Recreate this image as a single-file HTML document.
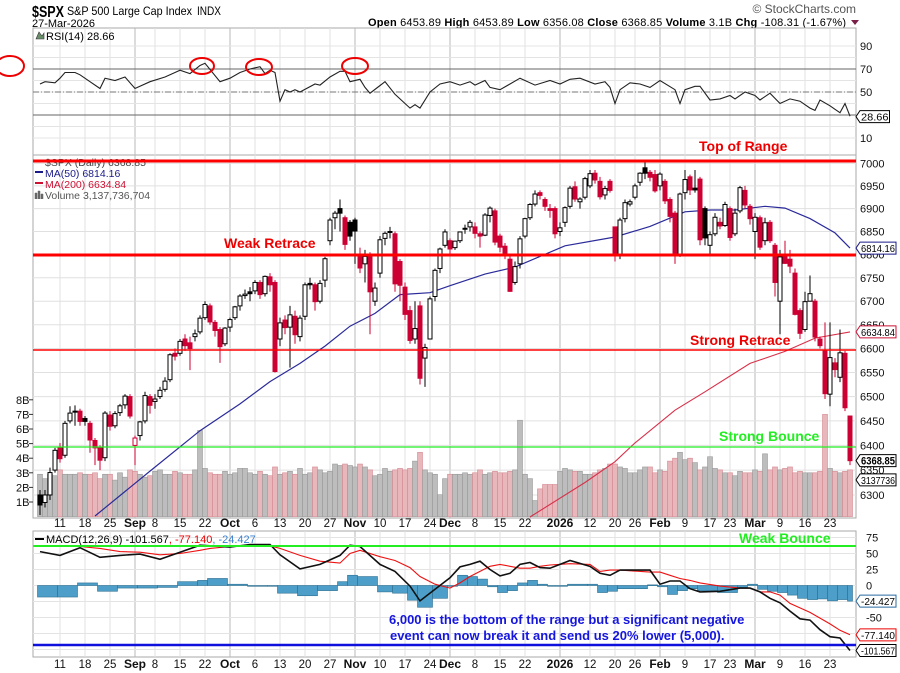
<!DOCTYPE html>
<html><head><meta charset="utf-8">
<style>
html,body{margin:0;padding:0;background:#fff;}
svg{display:block;font-family:"Liberation Sans",Arial,sans-serif;}
</style></head>
<body>
<svg id="chart" width="900" height="673" viewBox="0 0 900 673">
<g id="hdr">
 <text x="32" y="17" font-size="16" font-weight="bold" fill="#000" textLength="32" lengthAdjust="spacingAndGlyphs">$SPX</text>
 <text x="67" y="15" font-size="12" fill="#000" textLength="125" lengthAdjust="spacingAndGlyphs">S&amp;P 500 Large Cap Index</text>
 <text x="197" y="15" font-size="12" fill="#000" textLength="24" lengthAdjust="spacingAndGlyphs">INDX</text>
 <text x="32" y="27" font-size="11" fill="#000">27-Mar-2026</text>
 <text x="856" y="13" font-size="12" fill="#555" text-anchor="end">© StockCharts.com</text>
 <text x="368" y="26" font-size="11" fill="#000" textLength="478" lengthAdjust="spacing"><tspan font-weight="bold">Open</tspan> 6453.89  <tspan font-weight="bold">High</tspan> 6453.89  <tspan font-weight="bold">Low</tspan> 6356.08  <tspan font-weight="bold">Close</tspan> 6368.85  <tspan font-weight="bold">Volume</tspan> 3.1B  <tspan font-weight="bold">Chg</tspan> -108.31 (-1.67%)</text>
 <path d="M851,20 L859,20 L855,25 Z" fill="#7a1f4a"/>
</g>
<g id="grid"></g>
<g id="rsi"></g>
<g id="main"></g>
<g id="macd"></g>
<g id="axes"></g>
<g id="notes"></g>
</svg>
<script>
// ---------- data ----------
const opens=[6300,6285,6300,6350,6395,6380,6450,6470,6470,6455,6445,6410,6395,6375,6462,6440,6467,6483,6500,6400,6420,6450,6500,6490,6500,6515,6535,6590,6590,6620,6612,6625,6635,6665,6690,6655,6640,6610,6645,6665,6690,6712,6720,6722,6740,6716,6752,6740,6620,6660,6645,6668,6625,6668,6738,6735,6700,6745,6830,6880,6900,6880,6870,6875,6800,6780,6800,6700,6760,6835,6848,6845,6785,6730,6680,6620,6690,6580,6620,6710,6770,6820,6830,6815,6830,6855,6860,6860,6845,6842,6885,6895,6840,6818,6790,6740,6780,6840,6880,6910,6935,6920,6900,6900,6850,6870,6905,6948,6915,6925,6950,6978,6960,6930,6960,6860,6800,6878,6910,6925,6958,6990,6980,6975,6950,6960,6920,6890,6800,6935,6970,6945,6965,6900,6820,6845,6870,6863,6900,6845,6895,6940,6905,6850,6880,6830,6870,6820,6700,6800,6790,6760,6680,6640,6700,6700,6620,6595,6505,6570,6540,6590,6460];
const closes=[6280,6300,6345,6390,6373,6445,6466,6468,6449,6449,6411,6395,6370,6466,6439,6465,6481,6501,6460,6415,6448,6502,6482,6495,6513,6532,6587,6584,6615,6606,6600,6631,6664,6693,6656,6638,6604,6643,6661,6688,6711,6715,6716,6740,6714,6753,6735,6552,6654,6644,6671,6629,6664,6735,6735,6699,6738,6791,6875,6890,6890,6822,6840,6851,6771,6796,6720,6728,6832,6846,6850,6737,6734,6672,6617,6642,6538,6602,6705,6766,6812,6849,6812,6829,6849,6857,6870,6846,6840,6886,6901,6827,6816,6800,6721,6774,6834,6878,6909,6932,6929,6905,6896,6845,6858,6902,6945,6921,6921,6966,6977,6963,6926,6944,6940,6797,6875,6913,6915,6950,6978,6978,6969,6939,6976,6917,6883,6798,6932,6964,6941,6941,6832,6836,6843,6881,6862,6909,6837,6890,6946,6908,6878,6881,6816,6869,6830,6740,6795,6781,6775,6672,6632,6699,6716,6624,6606,6506,6581,6556,6591,6477,6369];
const highs=[6310,6310,6355,6395,6405,6450,6480,6482,6475,6460,6450,6415,6400,6470,6470,6470,6485,6505,6505,6420,6450,6510,6505,6505,6520,6540,6590,6600,6620,6630,6625,6640,6670,6700,6695,6660,6645,6645,6665,6690,6715,6725,6730,6745,6745,6755,6760,6745,6665,6670,6690,6680,6670,6740,6750,6740,6745,6795,6880,6895,6920,6885,6875,6880,6815,6810,6805,6740,6840,6850,6860,6850,6790,6740,6690,6700,6700,6610,6710,6770,6815,6855,6835,6830,6850,6865,6875,6870,6850,6890,6905,6900,6845,6825,6800,6785,6840,6880,6912,6940,6940,6925,6910,6905,6870,6905,6950,6960,6925,6970,6985,6985,6970,6950,6965,6860,6880,6920,6920,6955,6980,7005,6985,6985,6980,6965,6925,6895,6935,6985,6975,6985,6970,6905,6850,6890,6880,6915,6905,6900,6950,6950,6910,6890,6885,6880,6875,6825,6810,6830,6810,6770,6685,6720,6755,6705,6625,6655,6655,6580,6640,6595,6455];
const lows=[6260,6275,6290,6345,6365,6375,6445,6440,6440,6440,6385,6360,6350,6368,6430,6435,6460,6475,6455,6360,6410,6445,6465,6475,6495,6510,6530,6575,6585,6595,6555,6615,6630,6660,6650,6625,6570,6605,6635,6660,6680,6705,6700,6715,6705,6710,6720,6550,6605,6630,6560,6610,6615,6660,6725,6680,6695,6730,6820,6855,6850,6810,6830,6780,6760,6740,6630,6690,6750,6820,6835,6720,6700,6660,6610,6610,6525,6520,6620,6700,6760,6815,6800,6810,6825,6845,6850,6835,6815,6840,6870,6820,6805,6790,6720,6735,6770,6835,6875,6905,6920,6895,6880,6835,6840,6860,6900,6915,6900,6920,6945,6955,6920,6920,6935,6785,6790,6870,6905,6920,6950,6965,6960,6935,6940,6910,6870,6780,6795,6920,6930,6935,6820,6820,6800,6840,6855,6860,6830,6840,6890,6900,6865,6790,6810,6820,6825,6710,6630,6780,6760,6670,6620,6635,6700,6615,6600,6495,6480,6540,6530,6470,6360];
const volumes=[2.9,2.6,2.9,2.8,3.2,2.9,2.9,2.9,3.0,2.9,2.9,3.0,2.6,2.9,2.9,2.5,3.0,2.7,3.2,3.1,2.9,2.7,2.8,3.1,3.2,2.9,2.9,3.1,3.0,2.9,2.9,3.2,5.9,3.3,3.0,2.9,2.9,3.1,2.9,3.0,3.3,3.3,3.0,2.9,3.1,2.9,2.8,3.4,2.9,3.0,3.1,2.9,3.3,2.9,3.0,3.4,3.2,3.0,3.1,3.6,3.5,3.6,3.5,3.4,3.6,3.4,3.2,2.8,2.9,3.3,3.1,3.2,3.3,3.2,3.3,3.8,4.4,3.2,3.0,2.9,1.5,2.6,2.9,2.9,2.9,3.0,2.9,3.0,3.2,2.9,3.0,3.1,3.0,3.0,3.1,3.2,6.6,2.9,2.6,1.1,1.9,2.2,2.2,2.2,3.1,3.3,3.2,3.1,3.1,2.9,2.9,3.0,3.2,3.3,3.6,3.6,3.4,3.3,3.0,3.0,3.2,3.4,3.4,3.0,3.2,3.1,3.8,4.0,4.4,3.9,4.0,3.7,3.2,3.4,4.1,3.3,3.2,3.0,3.0,2.8,3.1,3.0,3.0,3.2,3.1,4.3,3.2,3.4,3.2,3.3,3.4,3.0,3.1,3.0,3.0,3.0,3.1,7.0,3.3,3.1,3.0,3.1,3.2];
const ma50Idx=[11,22,32,40,46,52,57,62,67,72,78,82,89,95,105,115,122,129,134,139,145,149,154,159,162];
const ma50Val=[6258,6348,6430,6485,6531,6569,6605,6647,6674,6714,6718,6733,6758,6773,6819,6838,6861,6893,6897,6897,6905,6901,6878,6847,6814];
const ma200Idx=[98,109,115,119,127,133,142,149,155,162];
const ma200Val=[6256,6325,6367,6405,6472,6510,6569,6594,6622,6635];
const rsiIdx=[0,1,3,4,5,7,8,10,12,13,15,17,19,22,25,27,28,30,32,33,36,38,40,42,44,45,46,47,48,49,50,51,52,55,56,58,60,61,62,64,65,66,69,71,74,75,76,78,80,82,84,86,87,89,90,92,94,96,99,102,104,106,108,111,113,114,115,116,118,120,122,124,127,128,129,131,132,134,136,138,139,141,143,144,146,148,150,152,154,155,156,158,159,160,161,162];
const rsiVal=[57,59,58,62,67,67,65,59,53,62,60,63,53,59,63,67,69,66,73,75,59,62,67,70,72,66,69,67,42,52,50,52,50,57,56,63,68,68,59,61,54,49,59,48,36,39,36,50,57,59,56,59,56,60,54,52,57,62,56,60,57,61,62,57,59,54,40,52,58,57,54,60,52,40,52,55,55,43,44,47,44,50,47,43,49,40,44,42,36,34,43,38,35,32,40,29];
const macdIdx=[0,4,8,12,16,20,24,28,32,34,38,42,46,48,52,56,60,62,64,68,71,74,76,79,82,84,86,88,90,92,94,96,98,100,102,106,110,112,114,116,122,124,126,128,130,132,136,140,142,144,146,148,150,152,154,156,158,160,162];
const macdVal=[53,47,59,44,47,49,41,52,63,62,60,64,64,48,26,33,47,63,61,33,22,-1,-24,-6,12,29,33,38,25,15,19,33,36,28,27,39,30,19,16,24,24,2,7,7,-5,-10,-9,-4,-4,-10,-20,-27,-40,-52,-54,-69,-80,-82,-101.6];
const sigVal=[62,61,61,58,53,52,48,50,55,58,61,63,62,58,47,38,35,50,55,45,39,28,14,2,-4,4,14,22,30,33,30,27,27,30,32,34,33,22,24,24,21,21,16,11,8,4,-1,-4,-4,-10,-10,-15,-28,-35,-42,-51,-60,-70,-77.1];
const histVal=[-18,-18,4,-9,-4,-4,-3,6,8,11,2,0,0,-12,-16,-8,6,16,14,-10,-12,-23,-34,-20,0,16,14,10,-2,-11,-8,4,8,2,-1,2,2,-11,-9,-5,1,-2,-14,-8,-5,-8,-11,-3,2,-6,-9,-11,-15,-20,-22,-21,-24,-22,-24.4];
const dateIdx=[4,9,14,19,23,28,33,38,43,48,53,58,63,68,73,78,82,87,92,97,104,110,115,119,124,129,134,138,143,148,153,158];
const dateLbl=["11","18","25","Sep","8","15","22","Oct","6","13","20","27","Nov","10","17","24","Dec","8","15","22","2026","12","20","26","Feb","9","17","23","Mar","9","16","23"];
const priceTicks=[6300,6350,6400,6450,6500,6550,6600,6650,6700,6750,6800,6850,6900,6950,7000];
const volTicks=[1,2,3,4,5,6,7,8];
const rsiTicks=[90,70,50,10];
const macdTicks=[75,50,25,0,-50];

// ---------- scales ----------
const L=33,R=856;
const X=i=>40+i*5;
const PY=p=>163.3+(Math.log(7000)-Math.log(p))*3148;
const VY=v=>516.6-v*14.6;
const RY=r=>92-(r-50)*1.15;
const MY=m=>585.5-m*0.64;
const NS="http://www.w3.org/2000/svg";
function mk(tag,attrs,parent,txt){const e=document.createElementNS(NS,tag);for(const k in attrs)e.setAttribute(k,attrs[k]);if(txt!==undefined)e.textContent=txt;parent.appendChild(e);return e;}

const grid=document.getElementById('grid');
const panels=[[28,155],[155,518],[531,657]];
panels.forEach((p,k)=>{
  const r=mk('rect',{x:L,y:p[0],width:R-L,height:p[1]-p[0],fill:'#fff',stroke:'#aaa','stroke-width':1},grid);
  
  
});
dateIdx.forEach((d,k)=>{
  const major=/[A-Za-z]|2026/.test(dateLbl[k]);
  panels.forEach(p=>{
    const ln=mk('line',{x1:X(d),x2:X(d),y1:p[0],y2:p[1],stroke:major?'#b8b8b8':'#e0e0e0','stroke-width':1},grid);
    
    
  });
});
priceTicks.forEach(t=>{
  const ln=mk('line',{x1:L,x2:R,y1:PY(t),y2:PY(t),stroke:'#e0e0e0'},grid);
  
  
});
[10,20,30,40,50,60,70,80,90].forEach(t=>{
  const ln=mk('line',{x1:L,x2:R,y1:RY(t),y2:RY(t),stroke:'#e4e4e4'},grid);
  
  
});
[75,50,25,0,-25,-50,-75,-100].forEach(t=>{
  const ln=mk('line',{x1:L,x2:R,y1:MY(t),y2:MY(t),stroke:'#e4e4e4'},grid);
  
  
});

// ---------- RSI ----------
const rsiG=document.getElementById('rsi');
[[70,'#666',''],[30,'#666',''],[50,'#777','6,2,1,2']].forEach(a=>{
  const ln=mk('line',{x1:L,x2:R,y1:RY(a[0]),y2:RY(a[0]),stroke:a[1],'stroke-width':1,'stroke-dasharray':a[2]},rsiG);
  
  
});
let rp=rsiIdx.map((d,k)=>X(d)+','+RY(rsiVal[k]).toFixed(1)).join(' ');
const rl=mk('polyline',{points:rp,fill:'none',stroke:'#222','stroke-width':1.1},rsiG);


const rlg=mk('text',{x:46,y:40,'font-size':11,fill:'#000'},rsiG,'RSI(14) 28.66');


mk('path',{d:'M36,39 L39,32 L42,36 L44,33 L44,39 Z',fill:'#6b8f6b',stroke:'#333','stroke-width':0.6},rsiG);
[[10,66,14,10],[202,66,12,8],[259,67,13,8],[355,66,13,8]].forEach(c=>{
  const e=mk('ellipse',{cx:c[0],cy:c[1],rx:c[2],ry:c[3],fill:'none',stroke:'#e00','stroke-width':2},rsiG);
  
  
});

// ---------- main price ----------
const mainG=document.getElementById('main');
mk('clipPath',{id:'mclip'},mainG);
mk('rect',{x:L,y:155,width:R-L,height:363},document.getElementById('mclip'));
const mg=mk('g',{'clip-path':'url(#mclip)'},mainG);
volumes.forEach((v,i)=>{
  const down=i>0&&closes[i]<closes[i-1];
  const b=mk('rect',{x:X(i)-2.5,y:VY(v),width:5,height:516.6-VY(v),fill:down?'#e8b7bb':'#bdbdbd',stroke:down?'#d58a92':'#999','stroke-width':0.6},mg);
  
  
});
const m50=mk('polyline',{points:ma50Idx.map((d,k)=>X(d)+','+PY(ma50Val[k]).toFixed(1)).join(' '),fill:'none',stroke:'#2a2a9a','stroke-width':1.2},mg);


const m200=mk('polyline',{points:ma200Idx.map((d,k)=>X(d)+','+PY(ma200Val[k]).toFixed(1)).join(' '),fill:'none',stroke:'#d8304a','stroke-width':1.1},mg);


closes.forEach((c,i)=>{
  const o=opens[i],h=highs[i],l=lows[i];
  const col=(i===0||c>=closes[i-1])?'#000':'#cc0033';
  const up=c>=o;
  const w=mk('line',{x1:X(i),x2:X(i),y1:PY(h),y2:PY(l),stroke:col,'stroke-width':1},mg);
  
  
  const top=PY(Math.max(o,c)),bot=PY(Math.min(o,c));
  const b=mk('rect',{x:X(i)-2,y:top,width:4,height:Math.max(1,bot-top),fill:up?'#fff':col,stroke:col,'stroke-width':1},mg);
  
  
});
const lg=[['$SPX (Daily) 6368.85','#444',166],['MA(50) 6814.16','#1a1a8a',177],['MA(200) 6634.84','#cc1133',188],['Volume 3,137,736,704','#555',199]];
lg.forEach((a,k)=>{
  const t=mk('text',{x:45,y:a[2],'font-size':10.5,fill:a[1]},mainG,a[0]);
  
  
});
mk('rect',{x:35,y:171,width:8,height:2,fill:'#1a1a8a'},mainG);
mk('rect',{x:35,y:182,width:8,height:2,fill:'#cc1133'},mainG);
mk('path',{d:'M35,199 v-6 h2 v6 M38,199 v-8 h2 v8 M41,199 v-5 h2 v5',fill:'#666',stroke:'#666','stroke-width':0.5},mainG);

// ---------- MACD ----------
const macdG=document.getElementById('macd');
mk('clipPath',{id:'dclip'},macdG);
mk('rect',{x:L,y:531,width:R-L,height:126},document.getElementById('dclip'));
const dg=mk('g',{'clip-path':'url(#dclip)'},macdG);
histVal.forEach((h,k)=>{
  const x0=X(macdIdx[k])-2.5, x1=k<macdIdx.length-1?X(macdIdx[k+1])-2.5:X(macdIdx[k])+2.5;
  const y0=MY(0),y1=MY(h);
  const b=mk('rect',{x:x0,y:Math.min(y0,y1),width:x1-x0,height:Math.max(0.8,Math.abs(y1-y0)),fill:'#4d9fc9',stroke:'#2f6f90','stroke-width':0.6},dg);
  
  
});
const sl=mk('polyline',{points:macdIdx.map((d,k)=>X(d)+','+MY(sigVal[k]).toFixed(1)).join(' '),fill:'none',stroke:'#ee1111','stroke-width':1.1},dg);


const ml=mk('polyline',{points:macdIdx.map((d,k)=>X(d)+','+MY(macdVal[k]).toFixed(1)).join(' '),fill:'none',stroke:'#111','stroke-width':1.6},dg);


const mlg=mk('text',{x:46,y:543,'font-size':11,fill:'#000'},macdG);
mlg.innerHTML='MACD(12,26,9) -101.567<tspan fill="#e00">, -77.140</tspan><tspan fill="#3a7fd0">, -24.427</tspan>';


mk('rect',{x:35,y:538,width:9,height:2,fill:'#000'},macdG);

// ---------- axes ----------
const ax=document.getElementById('axes');
[523,664].forEach(yy=>{
  dateIdx.forEach((d,k)=>{
    const major=/[A-Za-z]|2026/.test(dateLbl[k]);
    const t=mk('text',{x:X(d),y:yy+4,'font-size':major?12:11.5,'font-weight':major?'bold':'normal','text-anchor':'middle',fill:'#111'},ax,dateLbl[k]);
    
    
  });
});
priceTicks.forEach(t=>{
  const e=mk('text',{x:860,y:PY(t)+4,'font-size':11,fill:'#111'},ax,String(t));
  
  
});
volTicks.forEach(v=>{
  const e=mk('text',{x:16,y:VY(v)+4,'font-size':11,fill:'#111'},ax,v+'B');
  
  
  mk('line',{x1:29,x2:33,y1:VY(v),y2:VY(v),stroke:'#333'},ax);
});
rsiTicks.forEach(v=>{
  const e=mk('text',{x:860,y:RY(v)+4,'font-size':11,fill:'#111'},ax,String(v));
  
  
});
macdTicks.forEach(v=>{
  const e=mk('text',{x:866,y:MY(v)+4,'font-size':11,fill:'#111'},ax,String(v));
  
  
});
function tag(y,txt,col,bold,name){
  const g=mk('g',{},ax);
  
  
  const w=Math.min(36, txt.length*5.3+3);
  mk('path',{d:`M856,${y} L860,${y-6} L${860+w},${y-6} L${860+w},${y+6} L860,${y+6} Z`,fill:'#fff',stroke:col,'stroke-width':1},g);
  mk('text',{x:861,y:y+4,'font-size':bold?11:10.5,'font-weight':bold?'bold':'normal',fill:'#000',textLength:w-2,lengthAdjust:'spacingAndGlyphs'},g,txt);
}
tag(RY(rsiVal[rsiVal.length-1])+0.5,'28.66','#000',false,'rsi-value-tag');
tag(PY(ma50Val[ma50Val.length-1]),'6814.16','#1a1a8a',false,'ma50-value-tag');
tag(PY(ma200Val[ma200Val.length-1]),'6634.84','#cc1133',false,'ma200-value-tag');
tag(VY(volumes[volumes.length-1])+10,'3137736','#000',false,'volume-value-tag');
tag(PY(closes[closes.length-1]),'6368.85','#000',true,'close-value-tag');
tag(MY(histVal[histVal.length-1]),'-24.427','#2a6aa0',false,'histogram-value-tag');
tag(MY(sigVal[sigVal.length-1]),'-77.140','#e00',false,'signal-value-tag');
tag(MY(macdVal[macdVal.length-1]),'-101.567','#000',false,'macd-value-tag');

// ---------- annotations ----------
const nt=document.getElementById('notes');
function hl(y,col,w,name){const e=mk('line',{x1:L,x2:R,y1:y,y2:y,stroke:col,'stroke-width':w},nt);}
hl(161,'#ff0000',3,'top-of-range-line');
hl(255,'#ff0000',3,'weak-retrace-line');
hl(350,'#ff0000',1.5,'strong-retrace-line');
hl(447,'#22ee22',1.2,'strong-bounce-line');
hl(546,'#22ee22',2,'weak-bounce-line');
hl(645,'#1010dd',2.5,'range-bottom-line');
function note(x,y,txt,col,name,size){const e=mk('text',{x:x,y:y,'font-size':size||14,'font-weight':'bold',fill:col},nt,txt);}
note(699,151,'Top of Range','#ee0000','top-of-range-label');
note(224,248,'Weak Retrace','#ee0000','weak-retrace-label');
note(690,345,'Strong Retrace','#ee0000','strong-retrace-label');
note(719,441,'Strong Bounce','#22ee22','strong-bounce-label');
note(739,543,'Weak Bounce','#22ee22','weak-bounce-label');
note(389,624,'6,000 is the bottom of the range but a significant negative','#1515e0','range-note-line1',13);
note(390,640,'event can now break it and send us 20% lower (5,000).','#1515e0','range-note-line2',13);
</script>
</body></html>
